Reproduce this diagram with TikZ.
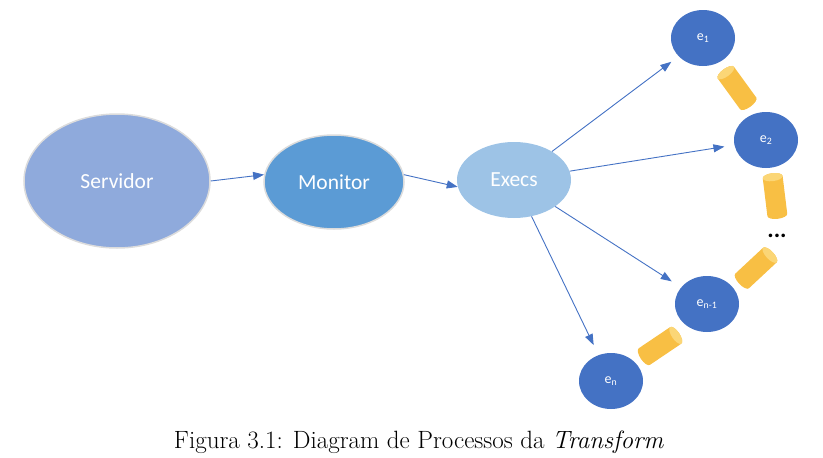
\documentclass[tikz,border=0pt]{standalone}
\usepackage{fontspec}
\newfontfamily\calibri{Carlito}
\usetikzlibrary{arrows.meta,shapes.geometric}
\definecolor{srvfill}{HTML}{8FAADC}
\definecolor{monfill}{HTML}{5B9BD5}
\definecolor{execfill}{HTML}{9DC3E6}
\definecolor{exfill}{HTML}{4472C4}
\definecolor{linkblue}{HTML}{4472C4}
\definecolor{pipebody}{HTML}{F8BF44}
\definecolor{pipeend}{HTML}{FBD676}
\definecolor{rimgray}{HTML}{DCDCDC}

\tikzset{
  proc/.style={ellipse, inner sep=0pt, text=white, font=\calibri\fontsize{21.5}{25}\selectfont},
  exnode/.style={ellipse, fill=exfill, minimum width=64pt, minimum height=56pt, inner sep=0pt,
    text=white, font=\calibri\fontsize{14}{16}\selectfont},
  link/.style={->, linkblue, line width=0.9pt},
}

% one yellow pipe: centre, angle of the capped end
\newcommand{\pipeat}[2]{%
  \begin{scope}[shift={(#1)}, rotate=#2]
    \fill[pipebody] (-19,-10) -- (19,-10) arc (-90:90:4 and 10) -- (-19,10) arc (90:270:4 and 10) -- cycle;
    \fill[pipeend] (19,0) ellipse (4 and 10);
  \end{scope}}

\begin{document}
\begin{tikzpicture}[x=1pt, y=-1pt, >={Triangle[length=11pt,width=8pt]}]
  \useasboundingbox (0,0) rectangle (823,458);

  \node[proc, fill=srvfill, draw=rimgray, line width=1.5pt, minimum width=186pt, minimum height=134pt] (srv) at (117,181) {Servidor};
  \node[proc, fill=monfill, draw=rimgray, line width=1.5pt, minimum width=140pt, minimum height=94pt] (mon) at (334,182) {Monitor};
  \node[proc, fill=execfill, minimum width=114pt, minimum height=76pt] (exe) at (514,180) {Execs};

  \node[exnode] (e1) at (703,38) {e\textsubscript{1}};
  \node[exnode] (e2) at (766,140) {e\textsubscript{2}};
  \node[exnode] (en1) at (707,304) {e\textsubscript{n-1}};
  \node[exnode] (en) at (611,381) {e\textsubscript{n}};
  \node[font=\calibri\bfseries\fontsize{24}{26}\selectfont] (dots) at (777,236) {...};

  % pipes between the execution nodes
  \pipeat{737,88}{126}
  \pipeat{775,196}{97}
  \pipeat{756,268}{43}
  \pipeat{660,346}{34}

  \draw[link] (srv.east) -- (mon.174);
  \draw[link] (mon.6) -- (exe.187);
  \draw[link, shorten >=9pt] (exe) -- (e1);
  \draw[link, shorten >=10pt] (exe) -- (e2);
  \draw[link, shorten >=11pt] (exe) -- (en1);
  \draw[link, shorten >=11pt] (exe) -- (en);

  \node[font=\fontsize{25}{30}\selectfont] (cap) at (419,442) {Figura 3.1: Diagram de Processos da \textit{Transform}};
\end{tikzpicture}
\end{document}
